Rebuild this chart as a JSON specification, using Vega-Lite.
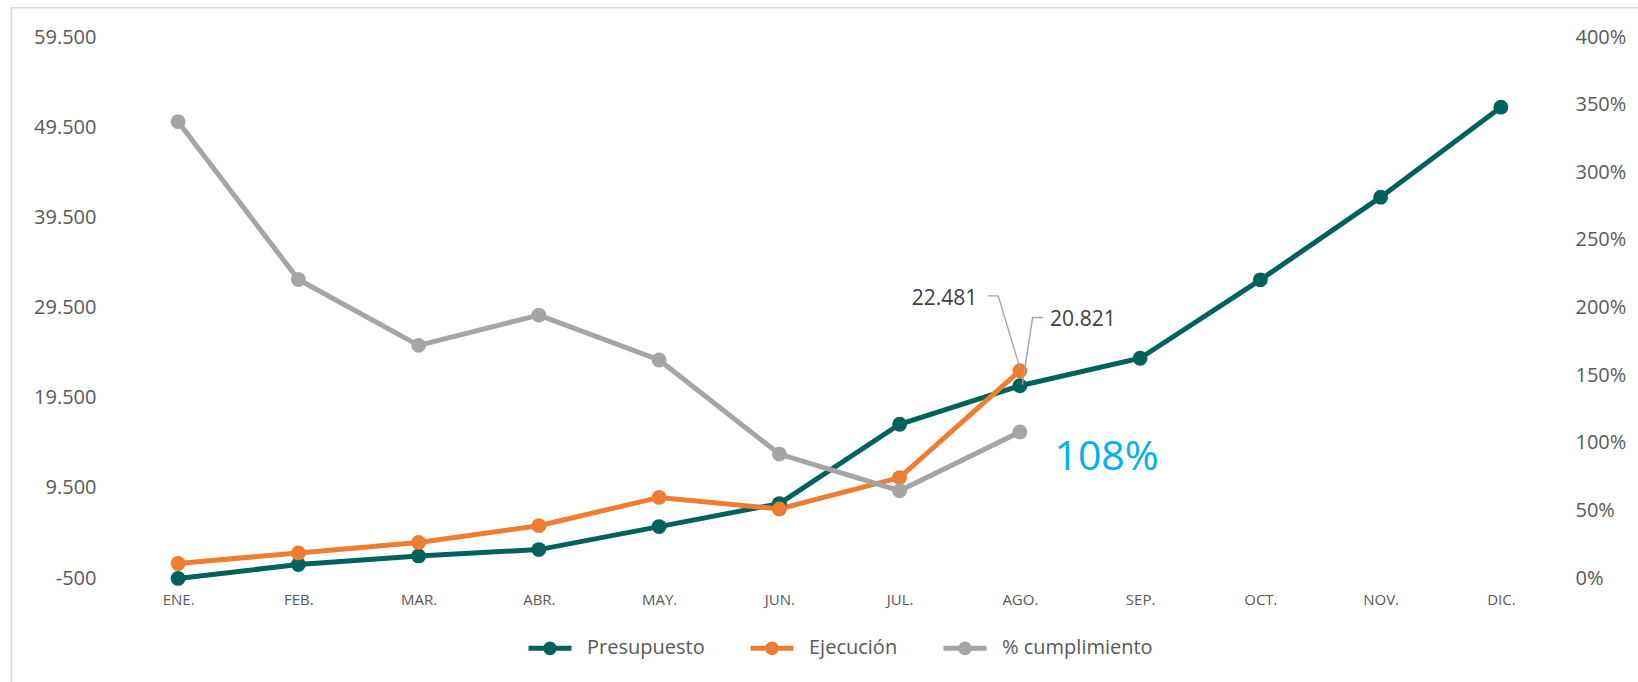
{
  "$schema": "https://vega.github.io/schema/vega-lite/v6.json",
  "width": 1443,
  "height": 541,
  "autosize": {"type": "none"},
  "padding": {"left": 118, "top": 37, "right": 77, "bottom": 104},
  "background": "white",
  "config": {
    "font": "Open Sans",
    "view": {"stroke": null},
    "locale": {"number": {"decimal": ",", "thousands": ".", "grouping": [3], "currency": ["", " €"], "minus": "-", "percent": "%"}},
    "axis": {"grid": false, "domain": false, "ticks": false, "title": null, "labelColor": "#595959", "labelFont": "Open Sans"},
    "legend": {"layout": {"bottom": {"anchor": "middle"}}}
  },
  "datasets": {
    "main": [
      {"mes": "ENE.", "serie": "Presupuesto", "valor": -550},
      {"mes": "FEB.", "serie": "Presupuesto", "valor": 1000},
      {"mes": "MAR.", "serie": "Presupuesto", "valor": 1950},
      {"mes": "ABR.", "serie": "Presupuesto", "valor": 2650},
      {"mes": "MAY.", "serie": "Presupuesto", "valor": 5200},
      {"mes": "JUN.", "serie": "Presupuesto", "valor": 7750},
      {"mes": "JUL.", "serie": "Presupuesto", "valor": 16550},
      {"mes": "AGO.", "serie": "Presupuesto", "valor": 20821},
      {"mes": "SEP.", "serie": "Presupuesto", "valor": 23870},
      {"mes": "OCT.", "serie": "Presupuesto", "valor": 32570},
      {"mes": "NOV.", "serie": "Presupuesto", "valor": 41740},
      {"mes": "DIC.", "serie": "Presupuesto", "valor": 51720},
      {"mes": "ENE.", "serie": "Ejecución", "valor": 1110},
      {"mes": "FEB.", "serie": "Ejecución", "valor": 2285},
      {"mes": "MAR.", "serie": "Ejecución", "valor": 3446},
      {"mes": "ABR.", "serie": "Ejecución", "valor": 5302},
      {"mes": "MAY.", "serie": "Ejecución", "valor": 8436},
      {"mes": "JUN.", "serie": "Ejecución", "valor": 7159},
      {"mes": "JUL.", "serie": "Ejecución", "valor": 10641},
      {"mes": "AGO.", "serie": "Ejecución", "valor": 22481}
    ],
    "pct": [
      {"mes": "ENE.", "serie": "% cumplimiento", "pct": 3.374},
      {"mes": "FEB.", "serie": "% cumplimiento", "pct": 2.207},
      {"mes": "MAR.", "serie": "% cumplimiento", "pct": 1.72},
      {"mes": "ABR.", "serie": "% cumplimiento", "pct": 1.944},
      {"mes": "MAY.", "serie": "% cumplimiento", "pct": 1.612},
      {"mes": "JUN.", "serie": "% cumplimiento", "pct": 0.916},
      {"mes": "JUL.", "serie": "% cumplimiento", "pct": 0.645},
      {"mes": "AGO.", "serie": "% cumplimiento", "pct": 1.08}
    ],
    "leaders": [
      {"id": 1, "xi": 6.736, "v": 30794},
      {"id": 1, "xi": 6.82, "v": 30794},
      {"id": 1, "xi": 7.0, "v": 22800},
      {"id": 2, "xi": 7.194, "v": 28384},
      {"id": 2, "xi": 7.106, "v": 28384},
      {"id": 2, "xi": 7.02, "v": 20950}
    ],
    "labels": [
      {"xi": 6.374, "v": 30458, "valor": 22481},
      {"xi": 7.524, "v": 28127, "valor": 20821}
    ],
    "big": [
      {"xi": 7.721, "v": 12842, "pct": 1.0797}
    ],
    "frame": [
      {"x1": -1.386, "x2": 13.5, "y1": 62737, "y2": -15000}
    ]
  },
  "layer": [
    {
      "data": {"name": "frame"},
      "mark": {"type": "rect", "fill": null, "stroke": "#D9D9D9", "strokeWidth": 1.5, "clip": false},
      "encoding": {
        "x": {"field": "x1", "type": "quantitative", "scale": {"domain": [-0.5, 11.5], "nice": false, "zero": false}, "axis": null},
        "x2": {"field": "x2"},
        "y": {"field": "y1", "type": "quantitative", "scale": {"domain": [-500, 59500], "nice": false, "zero": false}, "axis": null},
        "y2": {"field": "y2"}
      }
    },
    {
      "mark": {"type": "rule", "color": "#D9D9D9", "strokeWidth": 1.5},
      "encoding": {
        "y": {"datum": 0, "type": "quantitative", "scale": {"domain": [-500, 59500], "nice": false, "zero": false}, "axis": null}
      }
    },
    {
      "data": {"name": "main"},
      "mark": {"type": "line", "strokeWidth": 5, "point": {"filled": true, "size": 220, "opacity": 1}},
      "encoding": {
        "x": {"field": "mes", "type": "ordinal", "sort": null,
              "scale": {"domain": ["ENE.", "FEB.", "MAR.", "ABR.", "MAY.", "JUN.", "JUL.", "AGO.", "SEP.", "OCT.", "NOV.", "DIC."]},
              "axis": {"labelAngle": 0, "labelFontSize": 15, "labelPadding": 14}},
        "y": {"field": "valor", "type": "quantitative",
              "scale": {"domain": [-500, 59500], "nice": false, "zero": false},
              "axis": {"values": [-500, 9500, 19500, 29500, 39500, 49500, 59500], "format": ",.0f", "labelFontSize": 20, "labelPadding": 22}},
        "color": {"field": "serie", "type": "nominal",
                  "scale": {"domain": ["Presupuesto", "Ejecución", "% cumplimiento"], "range": ["#00625A", "#ED7D31", "#A5A5A5"]},
                  "legend": {"orient": "bottom", "direction": "horizontal", "title": null,
                             "symbolType": "M-1,0L1,0M0.2,0A0.2,0.2,0,1,1,-0.2,0A0.2,0.2,0,1,1,0.2,0M0.08,0A0.08,0.08,0,1,1,-0.08,0A0.08,0.08,0,1,1,0.08,0",
                             "symbolSize": 1849, "symbolStrokeWidth": 5, "labelFontSize": 20, "labelColor": "#595959",
                             "labelOffset": 13, "columnPadding": 35, "offset": 17}}
      }
    },
    {
      "data": {"name": "pct"},
      "mark": {"type": "line", "strokeWidth": 5, "point": {"filled": true, "size": 220, "opacity": 1}},
      "encoding": {
        "x": {"field": "mes", "type": "ordinal", "sort": null,
              "scale": {"domain": ["ENE.", "FEB.", "MAR.", "ABR.", "MAY.", "JUN.", "JUL.", "AGO.", "SEP.", "OCT.", "NOV.", "DIC."]},
              "axis": null},
        "y": {"field": "pct", "type": "quantitative",
              "scale": {"domain": [0, 4], "nice": false, "zero": false},
              "axis": {"orient": "right", "values": [0, 0.5, 1, 1.5, 2, 2.5, 3, 3.5, 4], "format": ".0%", "labelFontSize": 20, "labelPadding": 14}},
        "color": {"field": "serie", "type": "nominal"}
      }
    },
    {
      "data": {"name": "leaders"},
      "mark": {"type": "line", "color": "#A6A6A6", "strokeWidth": 1.4},
      "encoding": {
        "x": {"field": "xi", "type": "quantitative", "scale": {"domain": [-0.5, 11.5], "nice": false, "zero": false}, "axis": null},
        "y": {"field": "v", "type": "quantitative", "scale": {"domain": [-500, 59500], "nice": false, "zero": false}, "axis": null},
        "detail": {"field": "id"}
      }
    },
    {
      "data": {"name": "labels"},
      "mark": {"type": "text", "fontSize": 21, "color": "#404040", "align": "center", "baseline": "middle"},
      "encoding": {
        "x": {"field": "xi", "type": "quantitative", "scale": {"domain": [-0.5, 11.5], "nice": false, "zero": false}, "axis": null},
        "y": {"field": "v", "type": "quantitative", "scale": {"domain": [-500, 59500], "nice": false, "zero": false}, "axis": null},
        "text": {"field": "valor", "type": "quantitative", "format": ",.0f"}
      }
    },
    {
      "data": {"name": "big"},
      "mark": {"type": "text", "fontSize": 41, "color": "#00B0F0", "align": "center", "baseline": "middle"},
      "encoding": {
        "x": {"field": "xi", "type": "quantitative", "scale": {"domain": [-0.5, 11.5], "nice": false, "zero": false}, "axis": null},
        "y": {"field": "v", "type": "quantitative", "scale": {"domain": [-500, 59500], "nice": false, "zero": false}, "axis": null},
        "text": {"field": "pct", "type": "quantitative", "format": ".0%"}
      }
    }
  ],
  "resolve": {"scale": {"x": "independent", "y": "independent"}}
}
